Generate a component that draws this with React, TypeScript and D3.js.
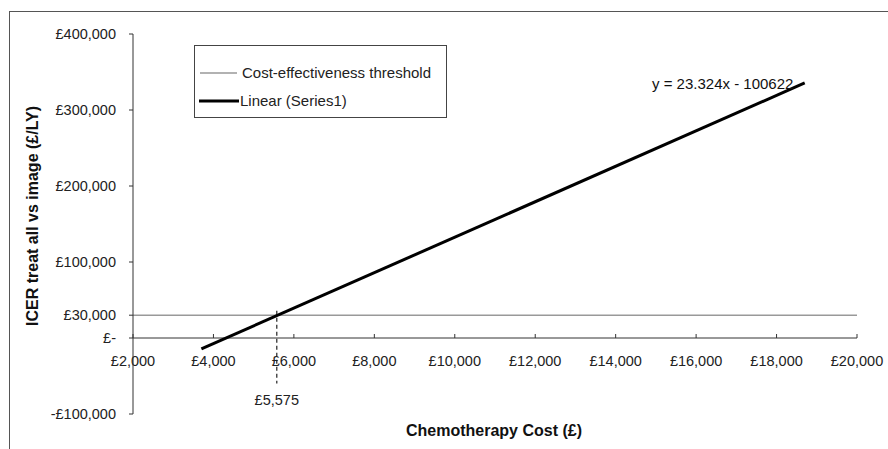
import React from 'react';
import * as d3 from 'd3';

const width = 888;
const height = 449;

// axis ticks
const xTicks = [2000, 4000, 6000, 8000, 10000, 12000, 14000, 16000, 18000, 20000];
const yTicks = [-100000, 0, 30000, 100000, 200000, 300000, 400000];

// series
const thresholdX = [2000, 20000];
const thresholdY = [30000, 30000];
const slope = 23.324;
const intercept = -100622;
const trendX = [3700, 18700];
const breakEven = [5575];

const font = 'Arial, "Liberation Sans", sans-serif';

const money = (v: number) => {
  if (v === 0) return '£-';
  const s = d3.format(',')(Math.abs(v));
  return (v < 0 ? '-£' : '£') + s;
};

export default function App() {
  const x = d3.scaleLinear().domain([2000, 20000]).range([133, 857]);
  const y = d3.scaleLinear().domain([-100000, 400000]).range([414, 34]);

  const line = d3
    .line<[number, number]>()
    .x((d) => x(d[0]))
    .y((d) => y(d[1]));

  const threshold: [number, number][] = thresholdX.map((v, i) => [v, thresholdY[i]]);
  const trend: [number, number][] = trendX.map((v) => [v, slope * v + intercept]);

  return (
    <svg width={width} height={height} style={{ position: 'absolute', left: 0, top: 0 }}>
      <rect x={0} y={0} width={width} height={height} fill="#fff" />
      {/* outer chart frame, clipped on the right and bottom */}
      <rect x={9.5} y={11.5} width={900} height={460} fill="none" stroke="#555" strokeWidth={1} />

      {/* threshold */}
      <path d={line(threshold) || ''} stroke="#999" strokeWidth={1.5} fill="none" />

      {/* x axis */}
      <line x1={x(2000)} x2={x(20000)} y1={y(0)} y2={y(0)} stroke="#333" strokeWidth={1} />
      {xTicks.map((t) => (
        <g key={t}>
          <line x1={x(t)} x2={x(t)} y1={y(0)} y2={y(0) - 4} stroke="#333" />
          <text x={x(t)} y={y(0) + 28} textAnchor="middle" fontFamily={font} fontSize={14.5} fill="#222">
            {money(t)}
          </text>
        </g>
      ))}

      {/* y axis */}
      <line x1={x(2000)} x2={x(2000)} y1={y(400000)} y2={y(-100000)} stroke="#333" strokeWidth={1} />
      {yTicks.map((t) => (
        <g key={t}>
          <line x1={x(2000) - 4} x2={x(2000)} y1={y(t)} y2={y(t)} stroke="#333" />
          <text x={x(2000) - 17} y={y(t)} dy="0.35em" textAnchor="end" fontFamily={font} fontSize={14.5} fill="#222">
            {money(t)}
          </text>
        </g>
      ))}

      {/* break-even marker */}
      {breakEven.map((b) => (
        <g key={b}>
          <line x1={x(b)} x2={x(b)} y1={y(36000)} y2={y(-60000)} stroke="#222" strokeWidth={1.2} strokeDasharray="4,3" />
          <text x={x(b)} y={y(0) + 67} textAnchor="middle" fontFamily={font} fontSize={14.5} fill="#222">
            {money(b)}
          </text>
        </g>
      ))}

      {/* trend line */}
      <path d={line(trend) || ''} stroke="#000" strokeWidth={3} fill="none" />
      <text x={652} y={89} fontFamily={font} fontSize={15} fill="#111">
        y = 23.324x - 100622
      </text>

      {/* legend */}
      <rect x={194.5} y={45.5} width={252} height={72} fill="#fff" stroke="#444" />
      <line x1={200} x2={237} y1={73} y2={73} stroke="#999" strokeWidth={1.5} />
      <text x={242} y={73} dy="0.35em" fontFamily={font} fontSize={15} fill="#222">
        Cost-effectiveness threshold
      </text>
      <line x1={199} x2={239} y1={101} y2={101} stroke="#000" strokeWidth={3} />
      <text x={240} y={101} dy="0.35em" fontFamily={font} fontSize={15} fill="#222">
        Linear (Series1)
      </text>

      {/* axis titles */}
      <text
        transform={`translate(38,${216}) rotate(-90)`}
        textAnchor="middle"
        fontFamily={font}
        fontSize={16}
        fontWeight="bold"
        fill="#111"
      >
        ICER treat all vs image (£/LY)
      </text>
      <text x={494} y={436} textAnchor="middle" fontFamily={font} fontSize={16} fontWeight="bold" fill="#111">
        Chemotherapy Cost (£)
      </text>
    </svg>
  );
}
